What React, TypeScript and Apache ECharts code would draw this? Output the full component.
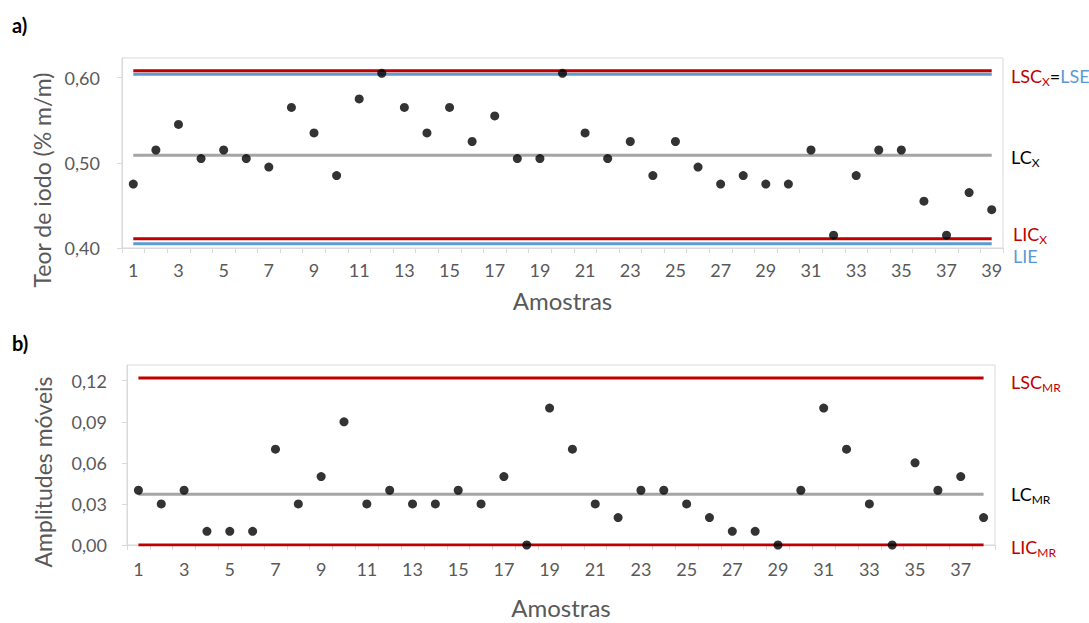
import React, { useEffect, useRef } from "react";
import * as echarts from "echarts";

// Individual samples (iodine content, % m/m)
const iodineValues = [
  0.475, 0.515, 0.545, 0.505, 0.515, 0.505, 0.495, 0.565, 0.535, 0.485,
  0.575, 0.605, 0.565, 0.535, 0.565, 0.525, 0.555, 0.505, 0.505, 0.605,
  0.535, 0.505, 0.525, 0.485, 0.525, 0.495, 0.475, 0.485, 0.475, 0.475,
  0.515, 0.415, 0.485, 0.515, 0.515, 0.455, 0.415, 0.465, 0.445,
];

// Moving ranges between consecutive samples
const movingRanges = [
  0.04, 0.03, 0.04, 0.01, 0.01, 0.01, 0.07, 0.03, 0.05, 0.09,
  0.03, 0.04, 0.03, 0.03, 0.04, 0.03, 0.05, 0.0, 0.1, 0.07,
  0.03, 0.02, 0.04, 0.04, 0.03, 0.02, 0.01, 0.01, 0.0, 0.04,
  0.1, 0.07, 0.03, 0.0, 0.06, 0.04, 0.05, 0.02,
];

const samplesA = iodineValues.map((_, i) => String(i + 1));
const samplesB = movingRanges.map((_, i) => String(i + 1));

// Control and specification limits
const LSC_X = 0.608;
const LC_X = 0.509;
const LIC_X = 0.411;
const LSE = 0.604;
const LIE = 0.405;
const LSC_MR = 0.122;
const LC_MR = 0.037;
const LIC_MR = 0.0;

const RED = "#C00000";
const BLUE = "#5B9BD5";
const GRAY = "#A5A5A5";
const TXT = "#595959";
const FONT = "Lato, 'Open Sans', sans-serif";

const comma = (v: number) => v.toFixed(2).replace(".", ",");

const constLine = (
  n: number,
  value: number,
  color: string,
  xi: number,
  name: string
) => ({
  name,
  type: "line",
  xAxisIndex: xi,
  yAxisIndex: xi,
  data: new Array(n).fill(value),
  symbol: "none",
  lineStyle: { color, width: 3 },
  silent: true,
  z: 2,
});

const main = (fill: string) => ({
  fill,
  fontSize: 18,
  fontFamily: FONT,
  verticalAlign: "top",
  lineHeight: 20,
});
const sub = (fill: string) => ({
  fill,
  fontSize: 12,
  fontFamily: FONT,
  verticalAlign: "bottom",
  lineHeight: 12,
  padding: [12, 0, 0, 0],
});

const subRich = {
  r: main(RED),
  rs: sub(RED),
  k: main("#000"),
  ks: sub("#000"),
  b: main(BLUE),
};

const sideLabel = (x: number, y: number, text: string) => ({
  type: "text",
  x,
  y,
  style: { text, rich: subRich, textVerticalAlign: "middle", textAlign: "left" },
});

export default function App() {
  const ref = useRef<HTMLDivElement>(null);

  useEffect(() => {
    if (!ref.current) return;
    const chart = echarts.init(ref.current, null, { renderer: "svg" });

    const xAxisBase = (data: string[], gi: number, gap: number, labelMargin: number) => ({
      type: "category",
      gridIndex: gi,
      data,
      boundaryGap: true,
      name: "Amostras",
      nameLocation: "middle",
      nameGap: gap,
      nameTextStyle: { color: TXT, fontSize: 24, fontFamily: FONT },
      axisLine: { lineStyle: { color: "#D9D9D9", width: 1 } },
      axisTick: { show: true, interval: 0, length: 5, lineStyle: { color: "#D9D9D9" } },
      axisLabel: { interval: 1, color: TXT, fontSize: 18, fontFamily: FONT, margin: labelMargin },
      splitLine: { show: false },
    });

    const yAxisBase = (gi: number, min: number, max: number, interval: number, margin: number) => ({
      type: "value",
      gridIndex: gi,
      min,
      max,
      interval,
      axisLine: { show: true, lineStyle: { color: "#D9D9D9", width: 1 } },
      axisTick: { show: true, length: 5, lineStyle: { color: "#D9D9D9" } },
      axisLabel: {
        color: TXT,
        fontSize: 18,
        fontFamily: FONT,
        margin,
        showMaxLabel: false,
        formatter: (v: number) => comma(v),
      },
      splitLine: { show: false },
    });

    chart.setOption({
      animation: false,
      backgroundColor: "#fff",
      grid: [
        { left: 122, top: 58, width: 881, height: 190, show: true, borderColor: "#D9D9D9", borderWidth: 1 },
        { left: 127, top: 365, width: 868, height: 180, show: true, borderColor: "#D9D9D9", borderWidth: 1 },
      ],
      xAxis: [xAxisBase(samplesA, 0, 40, 13), xAxisBase(samplesB, 1, 50, 15)],
      yAxis: [yAxisBase(0, 0.4, 0.623, 0.1, 22), yAxisBase(1, 0, 0.1315, 0.03, 20)],
      series: [
        constLine(samplesA.length, LSE, BLUE, 0, "LSE"),
        constLine(samplesA.length, LIE, BLUE, 0, "LIE"),
        constLine(samplesA.length, LSC_X, RED, 0, "LSCx"),
        constLine(samplesA.length, LIC_X, RED, 0, "LICx"),
        constLine(samplesA.length, LC_X, GRAY, 0, "LCx"),
        {
          name: "Teor de iodo",
          type: "scatter",
          xAxisIndex: 0,
          yAxisIndex: 0,
          data: iodineValues,
          symbol: "circle",
          symbolSize: 9,
          itemStyle: { color: "#000" },
          z: 5,
        },
        constLine(samplesB.length, LSC_MR, RED, 1, "LSCmr"),
        constLine(samplesB.length, LIC_MR, RED, 1, "LICmr"),
        constLine(samplesB.length, LC_MR, GRAY, 1, "LCmr"),
        {
          name: "Amplitudes móveis",
          type: "scatter",
          xAxisIndex: 1,
          yAxisIndex: 1,
          data: movingRanges,
          symbol: "circle",
          symbolSize: 9,
          itemStyle: { color: "#000" },
          z: 5,
        },
      ],
      graphic: [
        {
          type: "text",
          x: 12,
          y: 25,
          style: { text: "a)", fontSize: 20, fontWeight: "bold", fontFamily: FONT, fill: "#000", textVerticalAlign: "middle" },
        },
        {
          type: "text",
          x: 12,
          y: 343,
          style: { text: "b)", fontSize: 20, fontWeight: "bold", fontFamily: FONT, fill: "#000", textVerticalAlign: "middle" },
        },
        {
          type: "text",
          x: 42,
          y: 180,
          rotation: Math.PI / 2,
          style: { text: "Teor de iodo (% m/m)", fontSize: 23, fontFamily: FONT, fill: TXT, textAlign: "center", textVerticalAlign: "middle" },
        },
        {
          type: "text",
          x: 43,
          y: 472,
          rotation: Math.PI / 2,
          style: { text: "Amplitudes móveis", fontSize: 23, fontFamily: FONT, fill: TXT, textAlign: "center", textVerticalAlign: "middle" },
        },
        sideLabel(1011, 77, "{r|LSC}{rs|X}{k|=}{b|LSE}"),
        sideLabel(1011, 158, "{k|LC}{ks|X}"),
        sideLabel(1013, 235, "{r|LIC}{rs|X}"),
        sideLabel(1013, 257, "{b|LIE}"),
        sideLabel(1011, 383, "{r|LSC}{rs|MR}"),
        sideLabel(1011, 495, "{k|LC}{ks|MR}"),
        sideLabel(1011, 548, "{r|LIC}{rs|MR}"),
      ],
    });

    return () => chart.dispose();
  }, []);

  return (
    <div
      ref={ref}
      style={{ position: "fixed", left: 0, top: 0, width: 1089, height: 623 }}
    />
  );
}
